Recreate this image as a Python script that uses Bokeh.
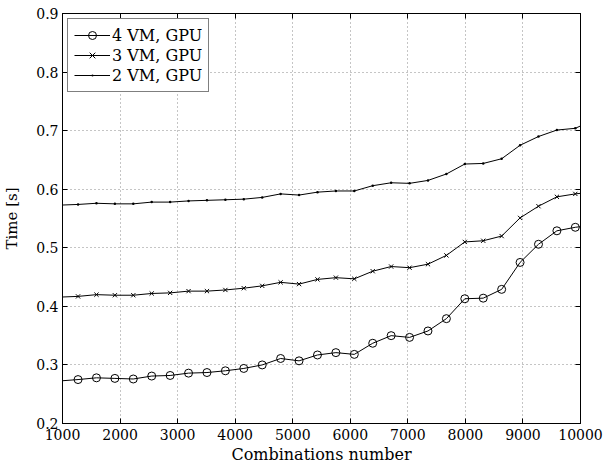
from bokeh.plotting import figure
from bokeh.models import Range1d, LinearAxis, Legend, LegendItem, FixedTicker, CustomJSTickFormatter
from bokeh.embed import file_html
from bokeh.resources import INLINE

# ---- data ----
x_ticks = [1000, 2000, 3000, 4000, 5000, 6000, 7000, 8000, 9000, 10000]
y_ticks = [0.2, 0.3, 0.4, 0.5, 0.6, 0.7, 0.8, 0.9]

x_first = 1000
x_last = 10000
x_marks = [1270, 1590, 1910, 2230, 2550, 2870, 3190, 3510, 3830, 4150,
           4470, 4790, 5110, 5430, 5750, 6070, 6390, 6710, 7030, 7350,
           7670, 7990, 8310, 8630, 8950, 9270, 9590, 9910]

vm4 = [0.275, 0.278, 0.277, 0.276, 0.281, 0.282, 0.286, 0.287, 0.290, 0.294,
       0.300, 0.311, 0.307, 0.317, 0.321, 0.318, 0.337, 0.350, 0.347, 0.358,
       0.379, 0.413, 0.414, 0.429, 0.475, 0.506, 0.529, 0.535]
vm4_first, vm4_last = 0.273, 0.536

vm3 = [0.417, 0.420, 0.419, 0.419, 0.422, 0.423, 0.426, 0.426, 0.428, 0.431,
       0.435, 0.441, 0.438, 0.446, 0.449, 0.447, 0.460, 0.468, 0.466, 0.472,
       0.487, 0.510, 0.512, 0.520, 0.551, 0.571, 0.587, 0.592]
vm3_first, vm3_last = 0.416, 0.593

vm2 = [0.574, 0.576, 0.575, 0.575, 0.578, 0.578, 0.580, 0.581, 0.582, 0.583,
       0.586, 0.592, 0.590, 0.595, 0.597, 0.597, 0.606, 0.611, 0.610, 0.615,
       0.626, 0.643, 0.644, 0.652, 0.675, 0.690, 0.701, 0.704]
vm2_first, vm2_last = 0.573, 0.708

labels = ["4 VM, GPU", "3 VM, GPU", "2 VM, GPU"]

FONT = "DejaVu Serif"

p = figure(width=605, height=466, output_backend="svg", toolbar_location=None,
           x_range=Range1d(1000, 10000), y_range=Range1d(0.2, 0.9),
           min_border_left=62, min_border_right=25, min_border_top=13, min_border_bottom=43,
           background_fill_color="white", border_fill_color="white")
p.outline_line_color = "black"
p.outline_line_width = 1

xt = FixedTicker(ticks=x_ticks)
yt = FixedTicker(ticks=y_ticks)

for ax in [p.xaxis[0], p.yaxis[0]]:
    ax.major_tick_in = 5
    ax.major_tick_out = 0
    ax.minor_tick_line_color = None
    ax.axis_line_color = "black"
    ax.major_tick_line_color = "black"
    ax.major_label_text_font = FONT
    ax.major_label_text_font_size = "14px"
    ax.major_label_text_color = "black"
    ax.axis_label_text_font = FONT
    ax.axis_label_text_font_style = "normal"
    ax.axis_label_text_color = "black"

p.xaxis[0].ticker = xt
p.yaxis[0].ticker = yt
p.xaxis[0].major_label_standoff = 5
p.xaxis[0].axis_label = "Combinations number"
p.xaxis[0].axis_label_text_font_size = "16px"
p.xaxis[0].axis_label_standoff = 2
p.yaxis[0].major_label_standoff = 4
p.yaxis[0].axis_label = "Time [s]"
p.yaxis[0].axis_label_text_font_size = "15px"
p.yaxis[0].axis_label_standoff = 12
p.yaxis[0].formatter = CustomJSTickFormatter(code="return tick.toFixed(1);")

blank = CustomJSTickFormatter(code="return '';")
top_ax = LinearAxis(ticker=xt, formatter=blank, major_tick_in=5, major_tick_out=0,
                    minor_tick_line_color=None, major_label_standoff=0,
                    major_label_text_font_size="0px", axis_line_color="black")
right_ax = LinearAxis(ticker=yt, formatter=blank, major_tick_in=5, major_tick_out=0,
                      minor_tick_line_color=None, major_label_standoff=0,
                      major_label_text_font_size="0px", axis_line_color="black")
p.add_layout(top_ax, "above")
p.add_layout(right_ax, "right")

p.xgrid.ticker = xt
p.ygrid.ticker = yt
for g in [p.xgrid[0], p.ygrid[0]]:
    g.grid_line_color = "#8a8a8a"
    g.grid_line_dash = "1 3"
    g.grid_line_width = 1

items = []

def series(vals, first, last, marker, size, label):
    xs = [x_first] + x_marks + [x_last]
    ys = [first] + vals + [last]
    ln = p.line(xs, ys, line_color="black", line_width=1)
    sc = p.scatter(x_marks, vals, marker=marker, size=size, fill_color=None,
                   line_color="black", line_width=1)
    items.append(LegendItem(label=label, renderers=[ln, sc]))

series(vm4, vm4_first, vm4_last, "circle", 8, labels[0])
series(vm3, vm3_first, vm3_last, "x", 6, labels[1])
series(vm2, vm2_first, vm2_last, "dot", 10, labels[2])

legend = Legend(items=items, location="top_left", margin=5, padding=6, spacing=0,
                glyph_width=36, glyph_height=20, label_height=20, label_standoff=2,
                label_text_font=FONT, label_text_font_size="16px",
                label_text_color="black",
                border_line_color="black", border_line_width=1,
                background_fill_color="white", background_fill_alpha=1)
p.add_layout(legend, "center")

open("out.html", "w").write(file_html(p, INLINE))
